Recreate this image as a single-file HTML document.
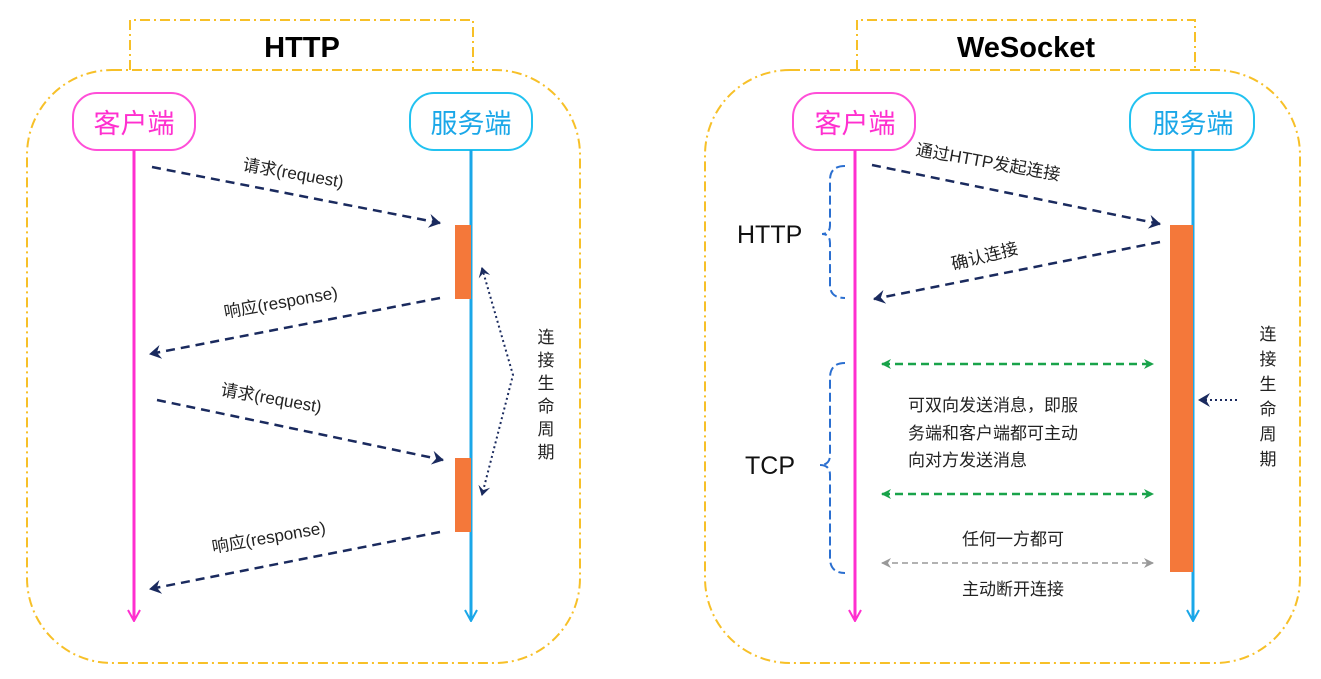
<!DOCTYPE html>
<html><head><meta charset="utf-8"><style>
body{margin:0;background:#fff}
svg{display:block}
text{font-family:"Liberation Sans","Noto Sans CJK SC",sans-serif}
.cj{font-family:"Liberation Sans","Noto Sans CJK SC",sans-serif;font-size:17px;fill:#222}
</style></head><body>
<svg width="1321" height="679" viewBox="0 0 1321 679" xmlns="http://www.w3.org/2000/svg">
<defs>
<marker id="an" markerWidth="14" markerHeight="14" refX="11" refY="7" orient="auto" markerUnits="userSpaceOnUse"><path d="M0,0 L12,7 L0,14 L4,7 Z" fill="#1a2a5e"/></marker>
<marker id="ag" markerWidth="12" markerHeight="12" refX="9" refY="6" orient="auto-start-reverse" markerUnits="userSpaceOnUse"><path d="M0,1 L10,6 L0,11 L3,6 Z" fill="#19a34a"/></marker>
<marker id="agr" markerWidth="12" markerHeight="12" refX="9" refY="6" orient="auto-start-reverse" markerUnits="userSpaceOnUse"><path d="M0,1 L10,6 L0,11 L3,6 Z" fill="#999"/></marker>
<marker id="ad" markerWidth="12" markerHeight="12" refX="9" refY="6" orient="auto-start-reverse" markerUnits="userSpaceOnUse"><path d="M0,0 L10,6 L0,12 L4,6 Z" fill="#1a2a5e"/></marker>
<marker id="ap" markerWidth="14" markerHeight="14" refX="7" refY="12" orient="0" markerUnits="userSpaceOnUse"><path d="M1,2 L7,13 L13,2" fill="none" stroke="#ff2fcf" stroke-width="2"/></marker>
<marker id="ab" markerWidth="14" markerHeight="14" refX="7" refY="12" orient="0" markerUnits="userSpaceOnUse"><path d="M1,2 L7,13 L13,2" fill="none" stroke="#1aa7e8" stroke-width="2"/></marker>
</defs>
<g fill="none" stroke="#f7c028" stroke-width="2" stroke-dasharray="10,4,2,4">
<path d="M130,70 V20 H473 V70"/>
<rect x="27" y="70" width="553" height="593" rx="85"/>
<path d="M857,70 V20 H1195 V70"/>
<rect x="705" y="70" width="595" height="593" rx="85"/>
</g>
<text x="302" y="57" font-size="29" font-weight="bold" text-anchor="middle">HTTP</text>
<text x="1026" y="57" font-size="29" font-weight="bold" text-anchor="middle">WeSocket</text>
<!-- left -->
<rect x="73" y="93" width="122" height="57" rx="24" fill="#fff" stroke="#ff4fd8" stroke-width="2"/>
<rect x="410" y="93" width="122" height="57" rx="24" fill="#fff" stroke="#22c2f0" stroke-width="2"/>
<text x="134" y="133" font-size="27" fill="#ff2fcf" text-anchor="middle">客户端</text>
<text x="471" y="133" font-size="27" fill="#1aa7e8" text-anchor="middle">服务端</text>
<line x1="134" y1="150" x2="134" y2="620" stroke="#ff2fcf" stroke-width="3" marker-end="url(#ap)"/>
<line x1="471" y1="150" x2="471" y2="620" stroke="#1aa7e8" stroke-width="3" marker-end="url(#ab)"/>
<rect x="455" y="225" width="16" height="74" fill="#f4783a"/>
<rect x="455" y="458" width="16" height="74" fill="#f4783a"/>
<g stroke="#1a2a5e" stroke-width="2.5" stroke-dasharray="9,6" fill="none" marker-end="url(#an)">
<line x1="152" y1="167" x2="440" y2="223"/>
<line x1="440" y1="298" x2="150" y2="354"/>
<line x1="157" y1="400" x2="443" y2="460"/>
<line x1="440" y1="532" x2="150" y2="589"/>
</g>
<path d="M482,268 L513,375 L482,495" fill="none" stroke="#1a2a5e" stroke-width="2" stroke-dasharray="2,3" marker-start="url(#ad)" marker-end="url(#ad)"/>
<text class="cj" transform="translate(242,170) rotate(10)">请求(request)</text>
<text class="cj" transform="translate(225,318) rotate(-10)">响应(response)</text>
<text class="cj" transform="translate(220,395) rotate(10)">请求(request)</text>
<text class="cj" transform="translate(213,553) rotate(-10)">响应(response)</text>
<g class="cj" text-anchor="middle"><text x="546" y="343">连</text><text x="546" y="366">接</text><text x="546" y="389">生</text><text x="546" y="412">命</text><text x="546" y="435">周</text><text x="546" y="458">期</text></g>
<!-- right -->
<rect x="793" y="93" width="122" height="57" rx="24" fill="#fff" stroke="#ff4fd8" stroke-width="2"/>
<rect x="1130" y="93" width="124" height="57" rx="24" fill="#fff" stroke="#22c2f0" stroke-width="2"/>
<text x="855" y="133" font-size="27" fill="#ff2fcf" text-anchor="middle">客户端</text>
<text x="1193" y="133" font-size="27" fill="#1aa7e8" text-anchor="middle">服务端</text>
<line x1="855" y1="150" x2="855" y2="620" stroke="#ff2fcf" stroke-width="3" marker-end="url(#ap)"/>
<line x1="1193" y1="150" x2="1193" y2="620" stroke="#1aa7e8" stroke-width="3" marker-end="url(#ab)"/>
<rect x="1170" y="225" width="23" height="347" fill="#f4783a"/>
<g stroke="#1a2a5e" stroke-width="2.5" stroke-dasharray="9,6" fill="none" marker-end="url(#an)">
<line x1="872" y1="165" x2="1160" y2="224"/>
<line x1="1160" y1="242" x2="874" y2="299"/>
</g>
<text class="cj" transform="translate(915,155) rotate(10)">通过HTTP发起连接</text>
<text class="cj" transform="translate(953,270) rotate(-14)">确认连接</text>
<g fill="none" stroke="#2b6fd0" stroke-width="2" stroke-dasharray="9,4">
<path d="M845,166 Q830,166 830,180 V225 Q830,234 822,234 Q830,234 830,243 V285 Q830,298 845,298"/>
<path d="M845,363 Q830,363 830,378 V455 Q830,465 820,465 Q830,465 830,475 V558 Q830,573 845,573"/>
</g>
<text x="737" y="243" font-size="25" fill="#111">HTTP</text>
<text x="745" y="474" font-size="25" fill="#111">TCP</text>
<g stroke="#19a34a" stroke-width="2.5" stroke-dasharray="8,5" marker-start="url(#ag)" marker-end="url(#ag)">
<line x1="882" y1="364" x2="1153" y2="364"/>
<line x1="882" y1="494" x2="1153" y2="494"/>
</g>
<line x1="882" y1="563" x2="1153" y2="563" stroke="#999" stroke-width="1.5" stroke-dasharray="6,4" marker-start="url(#agr)" marker-end="url(#agr)"/>
<text class="cj" x="908" y="411">可双向发送消息，即服</text>
<text class="cj" x="908" y="439">务端和客户端都可主动</text>
<text class="cj" x="908" y="466">向对方发送消息</text>
<text class="cj" x="1013" y="545" text-anchor="middle">任何一方都可</text>
<text class="cj" x="1013" y="595" text-anchor="middle">主动断开连接</text>
<line x1="1237" y1="400" x2="1199" y2="400" stroke="#1a2a5e" stroke-width="2" stroke-dasharray="2,3" marker-end="url(#an)"/>
<g class="cj" text-anchor="middle"><text x="1268" y="340">连</text><text x="1268" y="365">接</text><text x="1268" y="390">生</text><text x="1268" y="415">命</text><text x="1268" y="440">周</text><text x="1268" y="465">期</text></g>
</svg>
</body></html>
